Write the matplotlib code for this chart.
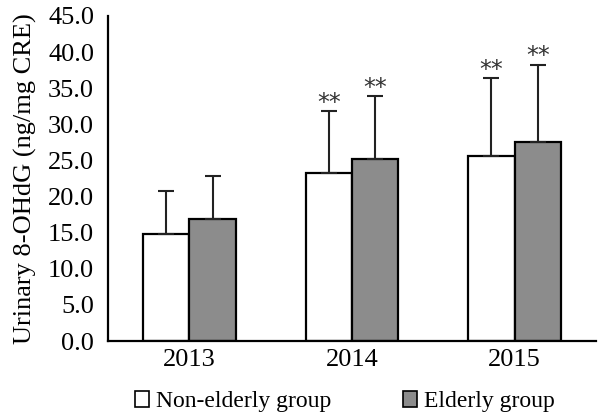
import numpy as np
import matplotlib
matplotlib.use("Agg")
import matplotlib.pyplot as plt
from matplotlib.patches import Patch

years = ["2013", "2014", "2015"]
non_elderly = [14.85, 23.2, 25.65]
elderly = [16.9, 25.25, 27.55]
non_elderly_sd = [5.85, 8.65, 10.75]
elderly_sd = [5.95, 8.65, 10.7]
non_elderly_sig = ["", "**", "**"]
elderly_sig = ["", "**", "**"]

plt.rcParams["font.family"] = ["Liberation Serif", "DejaVu Serif"]

fig = plt.figure(figsize=(6.02, 4.19), dpi=100)
ax = fig.add_axes([108 / 602, 1 - 341 / 419, 488 / 602, 325 / 419])

x = np.arange(len(years))
w = 0.285
err_kw = dict(ecolor="#222222", elinewidth=1.5, capsize=6, capthick=1.5)

ax.bar(x - w / 2, non_elderly, w, color="white", edgecolor="black", linewidth=1.6,
       yerr=[np.zeros(3), non_elderly_sd], error_kw=err_kw, zorder=2)
ax.bar(x + w / 2, elderly, w, color="#8c8c8c", edgecolor="black", linewidth=1.6,
       yerr=[np.zeros(3), elderly_sd], error_kw=err_kw, zorder=2)

for i in range(len(years)):
    for xc, top, sig in [(x[i] - w / 2, non_elderly[i] + non_elderly_sd[i], non_elderly_sig[i]),
                         (x[i] + w / 2, elderly[i] + elderly_sd[i], elderly_sig[i])]:
        if sig:
            ax.text(xc, top - 0.5, sig, ha="center", va="bottom", fontsize=17,
                    color="#333333", family=["DejaVu Sans"])

ax.set_xlim(-0.5, 2.5)
ax.set_ylim(0, 45)
ax.set_yticks(np.arange(0, 45.1, 5))
ax.set_yticklabels([f"{v:.1f}" for v in np.arange(0, 45.1, 5)])
ax.set_xticks(x)
ax.set_xticklabels(years)
ax.tick_params(axis="y", length=0, labelsize=19, pad=10)
ax.tick_params(axis="x", length=0, labelsize=19, pad=6)
for s in ["top", "right"]:
    ax.spines[s].set_visible(False)
for s in ["left", "bottom"]:
    ax.spines[s].set_linewidth(1.6)
ax.set_ylabel("Urinary 8-OHdG (ng/mg CRE)", fontsize=19, labelpad=8)

handles = [Patch(facecolor="white", edgecolor="black", linewidth=1.2, label="Non-elderly group"),
           Patch(facecolor="#8c8c8c", edgecolor="black", linewidth=1.2, label="Elderly group")]
fig.legend(handles=handles, loc="center", bbox_to_anchor=(0.573, 0.042), ncol=2,
           frameon=False, fontsize=17, handlelength=0.6, handleheight=0.65,
           handletextpad=0.3, columnspacing=3.05, borderpad=0)

fig.savefig("out.png", dpi=100, facecolor="white")
